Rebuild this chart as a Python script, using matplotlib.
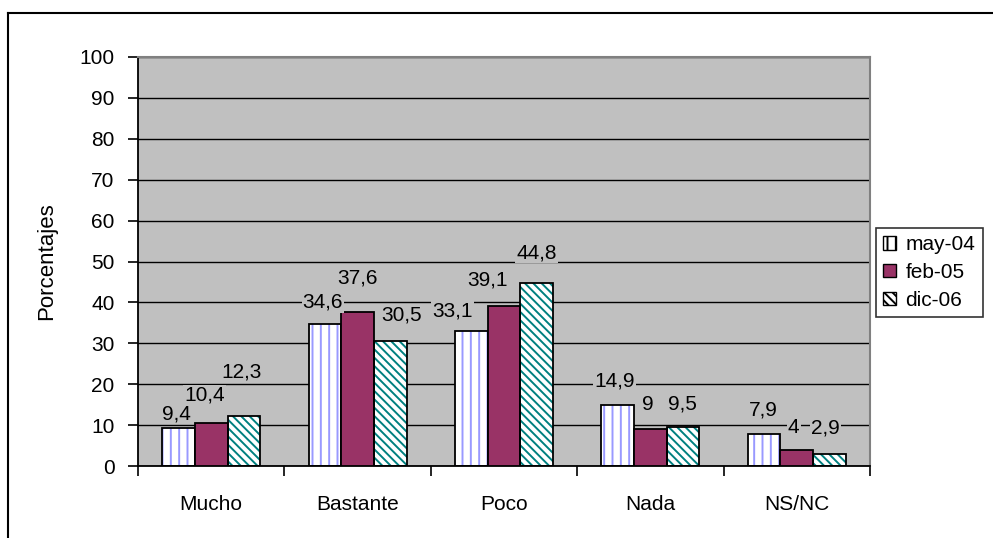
import matplotlib
matplotlib.use("Agg")
import matplotlib.pyplot as plt
from matplotlib.lines import Line2D
from matplotlib.patches import Patch
import numpy as np

categories = ["Mucho", "Bastante", "Poco", "Nada", "NS/NC"]
series_names = ["may-04", "feb-05", "dic-06"]
may_04 = [9.4, 34.6, 33.1, 14.9, 7.9]
feb_05 = [10.4, 37.6, 39.1, 9.0, 4.0]
dic_06 = [12.3, 30.5, 44.8, 9.5, 2.9]
y_ticks = [0, 10, 20, 30, 40, 50, 60, 70, 80, 90, 100]

# label placement (pixel offsets from the top centre of each bar)
label_dx = [[-2, -2, -19, -3, -1], [-7, 0, -16, -3, -3], [-2, 11, 0, -1, -4]]
label_dy = [[14, 22, 20, 24, 24], [28, 34, 26, 25, 22], [44, 26, 30, 23, 26]]

W, H = 993, 538
FS = 15
plt.rcParams["font.family"] = ["Liberation Sans", "DejaVu Sans"]
plt.rcParams["hatch.linewidth"] = 1.4
fig = plt.figure(figsize=(W / 100, H / 100), dpi=100)
fig.patch.set_facecolor("white")

left, right, top, bottom = 138, 870, 57, 466
ax = fig.add_axes([left / W, 1 - bottom / H, (right - left) / W, (bottom - top) / H])
ax.set_facecolor("#C0C0C0")

x = np.arange(len(categories))
bw = 0.223
offsets = [-bw, 0, bw]
series = [may_04, feb_05, dic_06]
fills = ["white", "#993366", "white"]
hatches = ["||", None, "\\\\\\\\"]
hatch_cols = ["#9999FF", None, "#008080"]

ax.set_axisbelow(True)
ax.yaxis.grid(True, color="black", linewidth=1.0)

for i, vals in enumerate(series):
    pos = x + offsets[i]
    if hatches[i]:
        ax.bar(pos, vals, bw, color=fills[i], hatch=hatches[i],
               edgecolor=hatch_cols[i], linewidth=0, zorder=2)
        ax.bar(pos, vals, bw, fill=False, edgecolor="black", linewidth=1.3, zorder=3)
    else:
        ax.bar(pos, vals, bw, color=fills[i], edgecolor="black", linewidth=1.3, zorder=3)
    for j, v in enumerate(vals):
        txt = f"{v:g}".replace(".", ",")
        ax.annotate(txt, xy=(pos[j], v), xytext=(label_dx[i][j], label_dy[i][j]),
                    textcoords="offset pixels", ha="center", va="center",
                    fontsize=FS, zorder=4,
                    bbox=dict(boxstyle="square,pad=0.05", facecolor="#C0C0C0",
                              edgecolor="none"))

ax.set_xlim(-0.5, len(categories) - 0.5)
ax.set_ylim(0, 100)
ax.set_yticks(y_ticks)
ax.set_yticklabels([str(t) for t in y_ticks], fontsize=FS)
ax.set_xticks(x)
ax.set_xticklabels(categories, fontsize=FS)
ax.tick_params(axis="x", length=0, pad=21)
ax.tick_params(axis="y", length=7, width=1.2, pad=10, direction="out")
# category separators on the x axis
ax.set_xticks(np.arange(len(categories) + 1) - 0.5, minor=True)
ax.tick_params(axis="x", which="minor", length=7, width=1.2, direction="out")

for s in ["left", "bottom"]:
    ax.spines[s].set_color("black")
    ax.spines[s].set_linewidth(1.3)
for s in ["top", "right"]:
    ax.spines[s].set_color("#808080")
    ax.spines[s].set_linewidth(1.5)

ax.set_ylabel("Porcentajes", fontsize=FS + 1, labelpad=16)

# legend
handles = []
for i in range(3):
    if hatches[i]:
        handles.append(Patch(facecolor="white", hatch=hatches[i], edgecolor="black"))
    else:
        handles.append(Patch(facecolor=fills[i], edgecolor="black"))
leg = fig.legend(handles, series_names, loc="upper left",
                 bbox_to_anchor=(876 / W, 1 - 228 / H), fontsize=FS,
                 frameon=True, fancybox=False, edgecolor="black",
                 handlelength=0.62, handleheight=0.62, handletextpad=0.45,
                 labelspacing=0.42, borderpad=0.35, borderaxespad=0)
leg.get_frame().set_linewidth(1.2)

# outer chart frame
fig.add_artist(Line2D([8 / W, 1], [1 - 13 / H, 1 - 13 / H], color="black",
                      linewidth=1.5, transform=fig.transFigure))
fig.add_artist(Line2D([8 / W, 8 / W], [0, 1 - 13 / H], color="black",
                      linewidth=1.5, transform=fig.transFigure))

fig.savefig("out.png", dpi=100)
